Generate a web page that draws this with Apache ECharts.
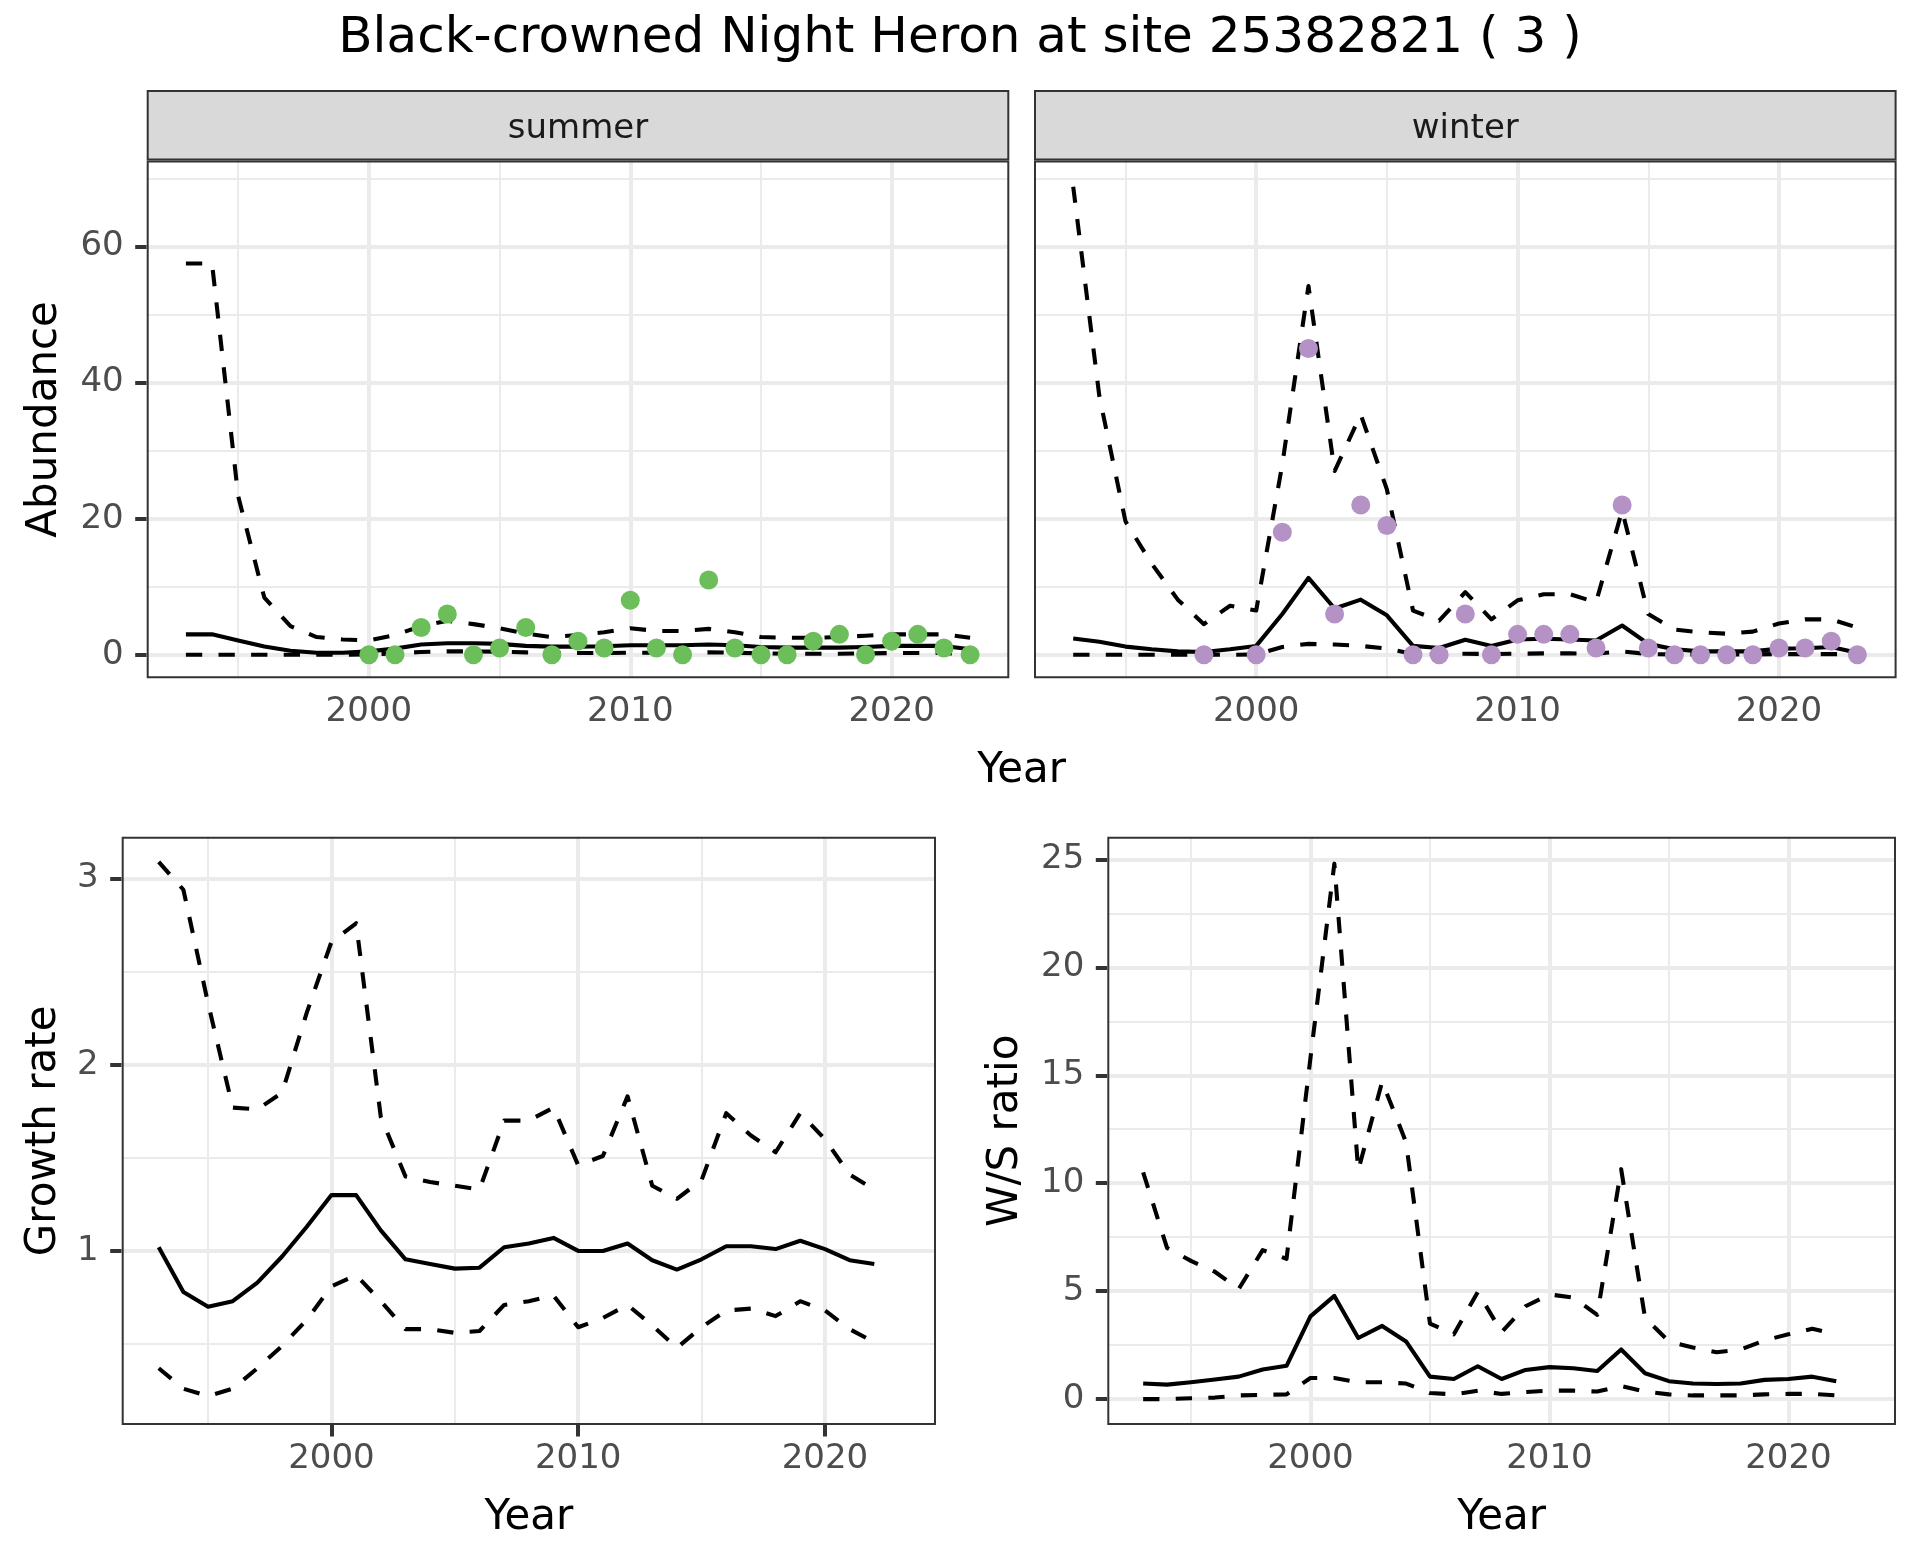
<!DOCTYPE html>
<html><head><meta charset="utf-8">
<script src="https://cdn.jsdelivr.net/npm/echarts@6/dist/echarts.min.js"></script>
<style>html,body{margin:0;padding:0;background:#fff}#c{width:1920px;height:1560px}</style>
</head><body><div id="c"></div>
<script>
// ---------- DATA ----------
const yearsTop = [1993,1994,1995,1996,1997,1998,1999,2000,2001,2002,2003,2004,2005,2006,2007,2008,2009,2010,2011,2012,2013,2014,2015,2016,2017,2018,2019,2020,2021,2022,2023];
const summerMean  = [3.0,3.0,2.1,1.2,0.6,0.3,0.3,0.5,0.9,1.5,1.7,1.7,1.6,1.3,1.2,1.2,1.25,1.4,1.4,1.4,1.5,1.4,1.15,1.05,1.05,1.05,1.15,1.3,1.3,1.3,0.8];
const summerUpper = [57.5,57.5,23.3,8.4,4.2,2.6,2.25,2.1,2.9,4.2,5.0,4.5,3.9,3.1,2.6,2.9,3.3,3.9,3.5,3.5,3.8,3.3,2.6,2.5,2.5,2.6,2.8,3.0,3.0,3.0,2.5];
const summerLower = [0,0,0,0,0,0,0,0.05,0.2,0.4,0.5,0.5,0.45,0.35,0.25,0.25,0.25,0.3,0.3,0.3,0.35,0.3,0.2,0.15,0.15,0.15,0.2,0.25,0.25,0.25,0.1];
const summerObsYears = [2000,2001,2002,2003,2004,2005,2006,2007,2008,2009,2010,2011,2012,2013,2014,2015,2016,2017,2018,2019,2020,2021,2022,2023];
const summerObs = [0,0,4,6,0,1,4,0,2,1,8,1,0,11,1,0,0,2,3,0,2,3,1,0];

const winterMean  = [2.4,1.9,1.2,0.8,0.5,0.4,0.8,1.3,6.0,11.3,6.8,8.1,5.8,1.3,1.0,2.2,1.3,2.25,2.35,2.25,2.1,4.3,1.6,0.8,0.5,0.5,0.5,0.9,0.95,1.15,0.3];
const winterUpper = [68.8,38.0,19.6,13.4,8.1,4.5,7.2,6.5,28.0,54.2,27.0,35.3,24.3,6.5,5.0,9.2,5.2,8.0,8.9,8.9,7.7,21.2,6.0,3.7,3.3,3.1,3.4,4.6,5.2,5.2,4.0];
const winterLower = [0,0,0,0,0,0,0,0.05,1.15,1.6,1.5,1.3,0.9,0.1,0.1,0.15,0.1,0.15,0.2,0.2,0.15,0.5,0.1,0.05,0.05,0.05,0.05,0.1,0.1,0.1,0.05];
const winterObsYears = [1998,2000,2001,2002,2003,2004,2005,2006,2007,2008,2009,2010,2011,2012,2013,2014,2015,2016,2017,2018,2019,2020,2021,2022,2023];
const winterObs = [0,0,18,45,6,22,19,0,0,6,0,3,3,3,1,22,1,0,0,0,0,1,1,2,0];

const yearsBottom = [1993,1994,1995,1996,1997,1998,1999,2000,2001,2002,2003,2004,2005,2006,2007,2008,2009,2010,2011,2012,2013,2014,2015,2016,2017,2018,2019,2020,2021,2022];
const growthMean  = [1.02,0.78,0.70,0.73,0.83,0.97,1.13,1.30,1.30,1.11,0.955,0.93,0.905,0.91,1.02,1.04,1.07,1.0,1.0,1.04,0.95,0.90,0.955,1.025,1.025,1.01,1.055,1.01,0.95,0.93];
const growthUpper = [3.09,2.94,2.33,1.77,1.76,1.85,2.28,2.66,2.76,1.72,1.40,1.37,1.35,1.33,1.70,1.70,1.77,1.46,1.51,1.83,1.35,1.28,1.38,1.74,1.62,1.53,1.74,1.60,1.41,1.33];
const growthLower = [0.37,0.26,0.22,0.26,0.37,0.49,0.63,0.81,0.87,0.73,0.58,0.58,0.56,0.57,0.71,0.73,0.76,0.59,0.64,0.71,0.60,0.48,0.59,0.68,0.69,0.65,0.73,0.68,0.58,0.51];

const ratioMean  = [0.72,0.67,0.78,0.91,1.04,1.37,1.54,3.83,4.78,2.83,3.39,2.67,1.04,0.93,1.52,0.93,1.35,1.48,1.43,1.30,2.30,1.20,0.83,0.72,0.70,0.72,0.89,0.93,1.04,0.83];
const ratioUpper = [10.5,7.0,6.4,5.9,5.1,6.9,6.5,15.8,24.8,10.6,14.7,11.9,3.5,3.0,4.96,3.1,4.3,4.85,4.7,3.9,10.65,3.76,2.67,2.39,2.17,2.3,2.72,3.0,3.26,3.0];
const ratioLower = [0.0,0.0,0.04,0.07,0.17,0.2,0.22,0.98,0.98,0.78,0.78,0.72,0.28,0.22,0.39,0.24,0.33,0.39,0.39,0.35,0.61,0.35,0.22,0.17,0.17,0.17,0.22,0.24,0.24,0.17];

// tick labels / gridlines
const xTicks = [2000, 2010, 2020];
const xMinor = [1995, 2005, 2015];
const abundanceTicks = [0, 20, 40, 60];
const abundanceMinor = [10, 30, 50, 70];
const growthTicks = [1, 2, 3];
const growthMinor = [0.5, 1.5, 2.5];
const ratioTicks = [0, 5, 10, 15, 20, 25];
const ratioMinor = [2.5, 7.5, 12.5, 17.5, 22.5];

const titleText = 'Black-crowned Night Heron at site 25382821 ( 3 )';
const stripLabels = ['summer', 'winter'];

// ---------- LAYOUT / STYLE ----------
const FONT = '"DejaVu Sans", sans-serif';
const GREEN = '#6BBE5A', PURPLE = '#B592C6';
const LW = 4.1;
const DASH = [16.3, 16.3];
const G = [
  {left:146.7, top:160.4, width:862.6, height:517.9},
  {left:1034,  top:160.4, width:862.6, height:517.9},
  {left:121.7, top:836.7, width:814.3, height:588.3},
  {left:1107.3,top:836.7, width:788.7, height:588.3}
];
const XR = [1991.5, 2024.5];
const YR = [[-3.46, 72.66], [-3.46, 72.66], [0.065, 3.225], [-1.2, 26.05]];
const yTickSets = [abundanceTicks, null, growthTicks, ratioTicks];

function gridLines(yMaj, yMin) {
  const minor = {color:'#EBEBEB', width:2, type:'solid'};
  const major = {color:'#EBEBEB', width:4, type:'solid'};
  const d = [];
  yMin.forEach(v => d.push({yAxis:v, lineStyle:minor}));
  xMinor.forEach(v => d.push({xAxis:v, lineStyle:minor}));
  yMaj.forEach(v => d.push({yAxis:v, lineStyle:major}));
  xTicks.forEach(v => d.push({xAxis:v, lineStyle:major}));
  return {silent:true, symbol:['none','none'], label:{show:false}, z:1, animation:false,
          lineStyle:{type:'solid'}, emphasis:{disabled:true}, data:d};
}
function line(gi, xs, ys, dashed, ml) {
  const s = {type:'line', xAxisIndex:gi, yAxisIndex:gi, data:xs.map((x,k)=>[x, ys[k]]),
    symbol:'none', showSymbol:false, z:3, silent:true,
    lineStyle:{color:'#000', width:LW, type: dashed ? DASH : 'solid', cap:'butt', join:'round'},
    emphasis:{disabled:true}};
  if (ml) s.markLine = ml;
  return s;
}
function pts(gi, xs, ys, color) {
  return {type:'scatter', xAxisIndex:gi, yAxisIndex:gi, data:xs.map((x,k)=>[x, ys[k]]),
    symbol:'circle', symbolSize:19, z:4, silent:true, itemStyle:{color:color, opacity:1}};
}
const plain = v => String(v);

const xAxes = G.map((g,i)=>({type:'value', gridIndex:i, min:XR[0], max:XR[1],
  axisLine:{show:false}, splitLine:{show:false},
  axisTick:{show:true, customValues:xTicks, length:11.5, lineStyle:{color:'#333333', width:4}},
  axisLabel:{show:true, customValues:xTicks, formatter:plain, fontSize:34, color:'#4D4D4D', fontFamily:FONT, margin:17}}));
const yAxes = G.map((g,i)=>{
  const t = yTickSets[i];
  return {type:'value', gridIndex:i, min:YR[i][0], max:YR[i][1],
    axisLine:{show:false}, splitLine:{show:false},
    axisTick: t ? {show:true, customValues:t, length:11.5, lineStyle:{color:'#333333', width:4}} : {show:false},
    axisLabel: t ? {show:true, customValues:t, formatter:plain, fontSize:34, color:'#4D4D4D', fontFamily:FONT, margin:23} : {show:false}};
});

const series = [
  line(0, yearsTop, summerLower, true, gridLines(abundanceTicks, abundanceMinor)),
  line(0, yearsTop, summerUpper, true),
  line(0, yearsTop, summerMean, false),
  pts(0, summerObsYears, summerObs, GREEN),
  line(1, yearsTop, winterLower, true, gridLines(abundanceTicks, abundanceMinor)),
  line(1, yearsTop, winterUpper, true),
  line(1, yearsTop, winterMean, false),
  pts(1, winterObsYears, winterObs, PURPLE),
  line(2, yearsBottom, growthLower, true, gridLines(growthTicks, growthMinor)),
  line(2, yearsBottom, growthUpper, true),
  line(2, yearsBottom, growthMean, false),
  line(3, yearsBottom, ratioLower, true, gridLines(ratioTicks, ratioMinor)),
  line(3, yearsBottom, ratioUpper, true),
  line(3, yearsBottom, ratioMean, false)
];

function txt(t, x, y, size, rot, fill) {
  return {type:'text', x:x, y:y, rotation:rot||0, z:200, silent:true,
    style:{text:t, x:0, y:0, align:'center', verticalAlign:'middle', font: size+'px '+FONT, fill: fill||'#000'}};
}
const graphics = [];
// strips
[0,1].forEach(i=>{
  const g = G[i];
  graphics.push({type:'rect', z:150, silent:true, shape:{x:g.left+1, y:91, width:g.width-2, height:g.top-91-1},
    style:{fill:'#D9D9D9', stroke:'#333333', lineWidth:2}});
  graphics.push(txt(stripLabels[i], g.left+g.width/2, 129.5, 34, 0, '#1A1A1A'));
});
// panel borders
G.forEach(g=>graphics.push({type:'rect', z:160, silent:true, shape:{x:g.left+1, y:g.top+1, width:g.width-2, height:g.height-2},
  style:{fill:'none', stroke:'#333333', lineWidth:2}}));
graphics.push(txt(titleText, 960, 39, 50, 0));
graphics.push(txt('Abundance', 45, G[0].top+G[0].height/2, 42, Math.PI/2));
graphics.push(txt('Year', (G[0].left + G[1].left + G[1].width)/2, 771, 42, 0));
graphics.push(txt('Growth rate', 44, G[2].top+G[2].height/2, 42, Math.PI/2));
graphics.push(txt('Year', G[2].left+G[2].width/2, 1518, 42, 0));
graphics.push(txt('W/S ratio', 1006, G[3].top+G[3].height/2, 42, Math.PI/2));
graphics.push(txt('Year', G[3].left+G[3].width/2, 1518, 42, 0));

const chart = echarts.init(document.getElementById('c'), null, {renderer:'canvas'});
chart.setOption({
  animation:false,
  backgroundColor:'#ffffff',
  textStyle:{fontFamily:FONT},
  grid: G.map(g=>Object.assign({show:false, containLabel:false, outerBoundsMode:'none'}, g)),
  xAxis: xAxes,
  yAxis: yAxes,
  series: series,
  graphic: graphics
});
</script></body></html>
